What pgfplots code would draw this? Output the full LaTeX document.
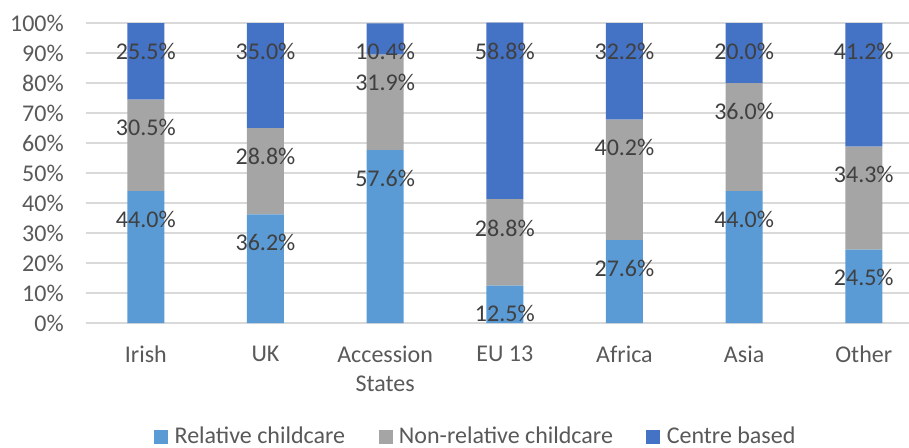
\documentclass[border=0pt]{standalone}
\usepackage{fontspec}
\setmainfont{Carlito}
\usepackage{pgfplots}
\usepackage{pgfplotstable}
\pgfplotsset{compat=1.18}
\definecolor{rel}{HTML}{5B9BD5}
\definecolor{nonrel}{HTML}{A5A5A5}
\definecolor{centre}{HTML}{4472C4}
\definecolor{gridc}{HTML}{D9D9D9}
\definecolor{tickc}{HTML}{595959}
\definecolor{labc}{HTML}{404040}
\newcommand{\cf}{\fontsize{12}{14.5}\selectfont}
\pgfplotstableread{
x rel nonrel centre
0 44.0 30.5 25.5
1 36.2 28.8 35.0
2 57.6 31.9 10.4
3 12.5 28.8 58.8
4 27.6 40.2 32.2
5 44.0 36.0 20.0
6 24.5 34.3 41.2
}\datatab
% label positions (x, y) and texts
\pgfplotstableread{
x y lab
0 34.6 44.0\%
0 65.1 30.5\%
0 90.4 25.5\%
1 26.8 36.2\%
1 55.4 28.8\%
1 90.4 35.0\%
2 48.2 57.6\%
2 80.1 31.9\%
2 90.4 10.4\%
3 3.2 12.5\%
3 31.6 28.8\%
3 90.4 58.8\%
4 18.2 27.6\%
4 58.4 40.2\%
4 90.4 32.2\%
5 34.6 44.0\%
5 70.4 36.0\%
5 90.4 20.0\%
6 15.1 24.5\%
6 49.6 34.3\%
6 90.4 41.2\%
}\labtab
\begin{document}
\begin{tikzpicture}
\begin{axis}[name=ax, at={(0,0)}, anchor=south west,
  scale only axis, width=411.5pt, height=150pt,
  ybar stacked, bar width=18.5pt,
  xmin=-0.5, xmax=6.378, ymin=0, ymax=100, clip=false,
  xtick={0,...,6},
  xticklabels={Irish,UK,{Accession\\States},EU 13,Africa,Asia,Other},
  ytick={0,10,...,100},
  yticklabels={0\%,10\%,20\%,30\%,40\%,50\%,60\%,70\%,80\%,90\%,100\%},
  ymajorgrids, grid style={gridc, line width=0.6pt},
  axis line style={draw=none}, major tick length=0pt,
  tick label style={font=\cf, text=tickc},
  xticklabel style={align=center, yshift=-8pt},
  yticklabel style={xshift=-7.6pt},
  legend columns=3,
  legend style={at={(0.4745,-0.38)}, anchor=center, draw=none, font=\cf, text=tickc,
    column sep=0pt, nodes={inner xsep=1.7pt, inner ysep=1pt},
    /tikz/every odd column/.append style={column sep=1.5pt},
    /tikz/every even column/.append style={column sep=15pt}},
  legend image code/.code={\fill[#1] (0pt,-3.5pt) rectangle (7pt,3.5pt);},
]
\addplot[fill=rel, draw=none] table[x=x, y=rel] {\datatab};
\addplot[fill=nonrel, draw=none] table[x=x, y=nonrel] {\datatab};
\addplot[fill=centre, draw=none] table[x=x, y=centre] {\datatab};
\legend{Relative childcare, Non-relative childcare, Centre based}
\end{axis}
\begin{axis}[at={(0,0)}, anchor=south west,
  scale only axis, width=411.5pt, height=150pt,
  xmin=-0.5, xmax=6.378, ymin=0, ymax=100, clip=false, hide axis]
\addplot[draw=none, mark=none, nodes near coords, point meta=explicit symbolic,
  every node near coord/.style={font=\cf, text=labc, inner sep=0pt, anchor=center}]
  table[x=x, y=y, meta=lab] {\labtab};
\end{axis}
\pgfresetboundingbox
\useasboundingbox ([shift={(-43pt,-62pt)}]ax.south west) rectangle ([shift={(0pt,11.5pt)}]ax.north east);
\end{tikzpicture}
\end{document}
